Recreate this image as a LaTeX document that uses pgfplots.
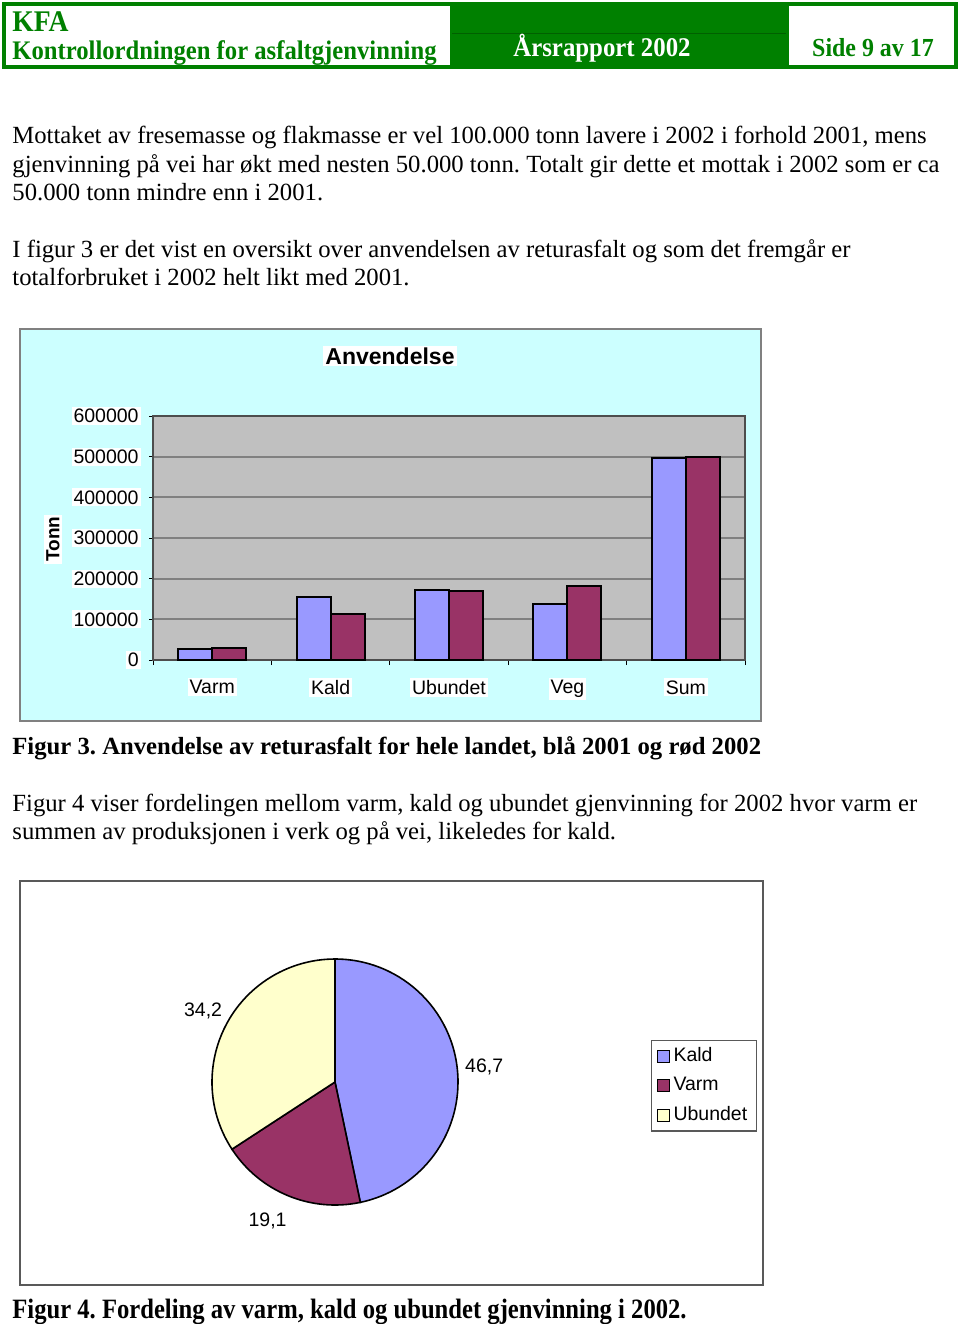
\documentclass[border=0pt]{standalone}
\usepackage{fontspec}
\setmainfont{Liberation Serif}
\setsansfont{Liberation Sans}
\newfontfamily\hdr[FakeStretch=0.92]{Liberation Serif}
\newfontfamily\capc[FakeStretch=0.88]{Liberation Serif}
\usepackage{pgfplots}
\pgfplotsset{compat=1.18}
\usepackage{pgfplotstable}
\definecolor{kfagreen}{RGB}{0,128,0}
\definecolor{bblue}{RGB}{153,153,255}
\definecolor{bred}{RGB}{153,51,102}
\definecolor{pyellow}{RGB}{255,255,204}
\definecolor{bgcyan}{RGB}{204,255,255}
\definecolor{plotgray}{RGB}{192,192,192}
\definecolor{gridgray}{RGB}{128,128,128}

\pgfplotstableread{
x cat y2001 y2002
0 Varm 27000 29000
1 Kald 155000 114000
2 Ubundet 173000 170000
3 Veg 137000 183000
4 Sum 496000 499000
}\bardata

% pie values (percent)
\def\pKald{46.7}
\def\pVarm{19.1}
\def\pUbundet{34.2}

\newcommand\body{\fontsize{12.35}{14}\selectfont}
\frenchspacing
\begin{document}
\begin{tikzpicture}[x=0.5pt,y=-0.5pt]
\useasboundingbox[fill=white] (0,0) rectangle (960,1324);
% ---------- header ----------
\fill[kfagreen] (450,3) rectangle (788,68);
\draw[kfagreen!75!black, line width=0.4pt] (452,33) -- (786,33);
\draw[kfagreen, line width=1.75pt] (4,4) rectangle (956,67);
\draw[kfagreen, line width=0.6pt] (788,4) -- (788,67);
\node[anchor=base west, inner sep=0, text=kfagreen, font=\hdr\bfseries\fontsize{15}{15}\selectfont] at (12,31) {KFA};
\node[anchor=base west, inner sep=0, text=kfagreen, font=\hdr\bfseries\fontsize{13.4}{14}\selectfont] at (12,59) {Kontrollordningen for asfaltgjenvinning};
\node[anchor=base, inner sep=0, text=white, font=\hdr\bfseries\fontsize{13.5}{14}\selectfont] at (602,56) {Årsrapport 2002};
\node[anchor=base, inner sep=0, text=kfagreen, font=\hdr\bfseries\fontsize{13}{14}\selectfont] at (873,56) {Side 9 av 17};
% ---------- body text ----------
\node[anchor=base west, inner sep=0, font=\body] at (12,143) {Mottaket av fresemasse og flakmasse er vel 100.000 tonn lavere i 2002 i forhold 2001, mens};
\node[anchor=base west, inner sep=0, font=\body] at (12,172) {gjenvinning på vei har økt med nesten 50.000 tonn. Totalt gir dette et mottak i 2002 som er ca};
\node[anchor=base west, inner sep=0, font=\body] at (12,200) {50.000 tonn mindre enn i 2001.};
\node[anchor=base west, inner sep=0, font=\body] at (12,257) {I figur 3 er det vist en oversikt over anvendelsen av returasfalt og som det fremgår er};
\node[anchor=base west, inner sep=0, font=\body] at (12,285) {totalforbruket i 2002 helt likt med 2001.};
% ---------- bar chart ----------
\draw[gridgray, fill=bgcyan, line width=0.75pt] (20,329) rectangle (761,721);
\node[fill=white, inner sep=1pt, font=\sffamily\bfseries\fontsize{11.5}{13}\selectfont] at (390,356) {Anvendelse};
\node[rotate=90, fill=white, inner sep=1pt, font=\sffamily\bfseries\fontsize{9.5}{11}\selectfont] at (53,539) {Tonn};
\begin{axis}[at={(76.5pt,-330pt)}, anchor=south west, scale only axis,
  width=296pt, height=122pt,
  xmin=-0.5, xmax=4.5, ymin=0, ymax=600000,
  ybar, bar width=17pt,
  xtick={0,...,4}, xticklabels={Varm,Kald,Ubundet,Veg,Sum},
  minor xtick={-0.5,0.5,1.5,2.5,3.5,4.5},
  ytick={0,100000,...,600000},
  xtick pos=bottom, ytick pos=left,
  scaled y ticks=false,
  /pgf/number format/fixed, /pgf/number format/1000 sep={},
  /pgf/number format/assume math mode=true,
  tick align=outside, major tick length=2pt, minor tick length=2.5pt,
  major x tick style={draw=none},
  tick style={black, line width=0.5pt},
  ymajorgrids, major grid style={gridgray, line width=0.9pt},
  axis background/.style={fill=plotgray},
  axis line style={gridgray!60!black, line width=0.6pt},
  ticklabel style={font=\sffamily\fontsize{9.75}{11}\selectfont, fill=white, inner sep=1pt},
  yticklabel style={xshift=-4pt},
  xticklabel style={yshift=-7pt},
]
\addplot[fill=bblue, draw=black, line width=1pt, bar shift=-8.5pt] table[x=x,y=y2001]{\bardata};
\addplot[fill=bred, draw=black, line width=1pt, bar shift=8.5pt] table[x=x,y=y2002]{\bardata};
\end{axis}
\node[anchor=base west, inner sep=0, font=\body\bfseries] at (12,754) {Figur 3. Anvendelse av returasfalt for hele landet, blå 2001 og rød 2002};
\node[anchor=base west, inner sep=0, font=\body] at (12,811) {Figur 4 viser fordelingen mellom varm, kald og ubundet gjenvinning for 2002 hvor varm er};
\node[anchor=base west, inner sep=0, font=\body] at (12,839) {summen av produksjonen i verk og på vei, likeledes for kald.};
% ---------- pie chart ----------
\draw[gray!70!black, line width=0.75pt] (20,881) rectangle (763,1285);
\pgfmathsetmacro\aA{90}
\pgfmathsetmacro\aB{\aA-\pKald*3.6}
\pgfmathsetmacro\aC{\aB-\pVarm*3.6}
\pgfmathsetmacro\aD{\aC-\pUbundet*3.6}
\pgfmathsetmacro\mA{(\aA+\aB)/2}
\pgfmathsetmacro\mB{(\aB+\aC)/2}
\pgfmathsetmacro\mC{(\aC+\aD)/2}
\begin{axis}[at={(167.5pt,-541pt)}, anchor=center, scale only axis,
  width=130pt, height=130pt, hide axis, clip=false,
  xmin=-1, xmax=1, ymin=-1, ymax=1,
  legend image code/.code={\draw[#1, draw=black, line width=0.5pt] (0pt,-3pt) rectangle (6pt,3pt);},
  legend style={at={(1.715,0.6615)}, anchor=north west, draw=gray!70!black, line width=0.6pt,
    font=\sffamily\fontsize{9.75}{11}\selectfont, inner xsep=2.5pt, inner ysep=1.5pt, row sep=2.4pt,
    cells={anchor=west}},
]
\addlegendimage{fill=bblue}\addlegendentry{Kald}
\addlegendimage{fill=bred}\addlegendentry{Varm}
\addlegendimage{fill=pyellow}\addlegendentry{Ubundet}
\filldraw[fill=bblue, draw=black, line width=0.8pt] (axis cs:0,0) -- ++(\aA:61.5pt) arc[start angle=\aA, end angle=\aB, radius=61.5pt] -- cycle;
\filldraw[fill=bred, draw=black, line width=0.8pt] (axis cs:0,0) -- ++(\aB:61.5pt) arc[start angle=\aB, end angle=\aC, radius=61.5pt] -- cycle;
\filldraw[fill=pyellow, draw=black, line width=0.8pt] (axis cs:0,0) -- ++(\aC:61.5pt) arc[start angle=\aC, end angle=\aD, radius=61.5pt] -- cycle;
\path (axis cs:0,0) ++(\mA:75pt) node[font=\sffamily\fontsize{9.75}{11}\selectfont] {46,7};
\path (axis cs:0,0) ++(\mB:75pt) node[xshift=-5pt, font=\sffamily\fontsize{9.75}{11}\selectfont] {19,1};
\path (axis cs:0,0) ++(\mC:75pt) node[font=\sffamily\fontsize{9.75}{11}\selectfont] {34,2};
\end{axis}
\node[anchor=base west, inner sep=0, font=\capc\bfseries\fontsize{14}{15}\selectfont] at (12,1318) {Figur 4. Fordeling av varm, kald og ubundet gjenvinning i 2002.};
\end{tikzpicture}
\end{document}
